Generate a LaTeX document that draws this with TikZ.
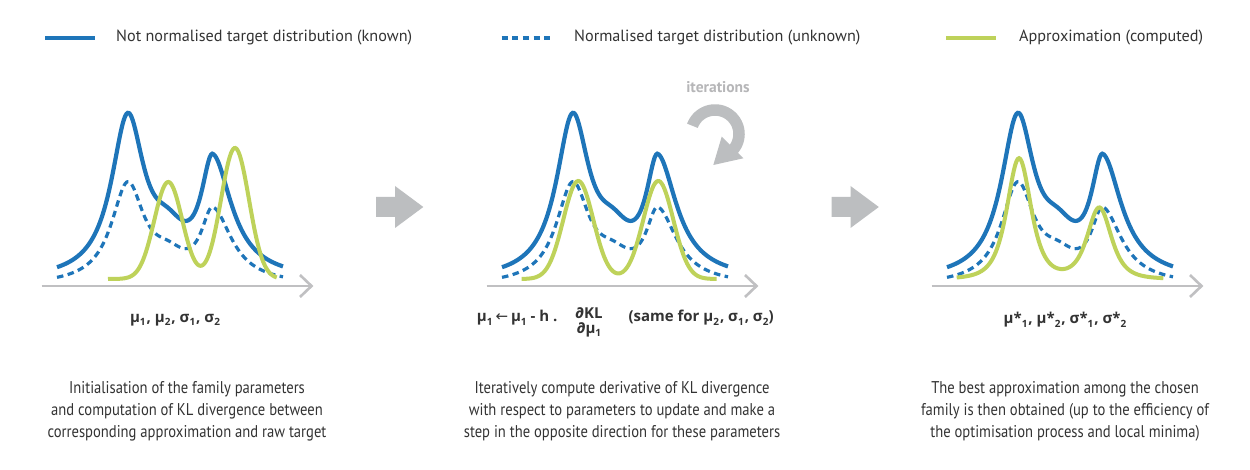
\documentclass[tikz,border=0pt]{standalone}
\usepackage{fontspec}
\setmainfont{PT Sans}
\newfontfamily\condfont[FakeStretch=0.86]{PT Sans}
\newfontfamily\labfont{Open Sans}
\newfontfamily\symfont{DejaVu Sans}
\definecolor{tblue}{RGB}{30,117,185}
\definecolor{tgreen}{RGB}{190,210,90}
\definecolor{agray}{RGB}{188,190,192}
\definecolor{xgray}{RGB}{192,192,194}
\definecolor{igray}{RGB}{182,182,184}
\definecolor{txt}{RGB}{51,51,51}
\newcommand\lidx[1]{\raisebox{-0.4ex}{\fontsize{10}{10}\selectfont #1}}
\begin{document}
\begin{tikzpicture}[x=1pt,y=-1pt,
  declare function={
    bl(\zz)=5+157.8/(1+((\zz-127.7)/20)^2)+112.7/(1+((\zz-212.7)/ifthenelse(\zz<212.7,14,23))^2)+32/(1+((\zz-168)/22)^2);
    ga(\zz,\mm,\ww)=exp(-min(((\zz-\mm)/\ww)^2,15));
    tq(\zz,\mm,\ww)=1/(1+((\zz-\mm)/\ww)^2)^2;
  },
  tgt/.style={tblue, line width=4.2pt},
  nrm/.style={tblue, line width=3.2pt, dash pattern=on 6.5pt off 4.5pt},
  apx/.style={tgreen, line width=4pt},
  axisline/.style={xgray, line width=2.6pt},
  blockarrow/.style={fill=agray, draw=none},
  legtxt/.style={text=txt, inner sep=0pt, font=\fontsize{16.2}{19}\selectfont},
  captxt/.style={text=txt, inner sep=0pt, align=center, font=\condfont\fontsize{17}{22}\selectfont},
  lab/.style={text=txt, inner sep=0pt, font=\labfont\bfseries\fontsize{15}{17}\selectfont},
  itlab/.style={text=igray, inner sep=0pt, font=\bfseries\fontsize{15.5}{17}\selectfont},
]
\useasboundingbox (0,0) rectangle (1250,470);
\fill[white] (0,0) rectangle (1250,470);

% legend
\draw[tgt] (45,38) -- (95,38);
\node[legtxt, anchor=west] (leg1) at (116,37.5) {Not normalised target distribution (known)};
\draw[nrm, dash pattern=on 6pt off 4.6pt] (501.7,38) -- (550.3,38);
\node[legtxt, anchor=west] (leg2) at (574,37.5) {Normalised target distribution (unknown)};
\draw[apx] (946,38) -- (996,38);
\node[legtxt, anchor=west] (leg3) at (1019,37.5) {Approximation (computed)};

% panel 1
\begin{scope}
  \draw[axisline] (41.7,286) -- (311,286);
  \draw[axisline] (300,275) -- (311.5,286) -- (300,297);
  \draw[tgt] plot[domain=57:283, samples=180] (\x,{286-bl(\x)});
  \draw[nrm] plot[domain=57:283, samples=180] (\x,{286-(0.62*bl(\x)-3)});
  \draw[apx] plot[domain=108:276.7, samples=160] (\x,{286-(7+97*ga(\x,168.3,19.8)+131*ga(\x,235,19.8))});
\end{scope}
\node[lab] (par1) at (175,320) {μ\lidx{1}\kern1pt, μ\lidx{2}\kern1pt, σ\lidx{1}\kern1pt, σ\lidx{2}};

% panel 2
\begin{scope}[shift={(445,0)}]
  \draw[axisline] (41.7,286) -- (311,286);
  \draw[axisline] (300,275) -- (311.5,286) -- (300,297);
  \draw[tgt] plot[domain=57:283, samples=180] (\x,{286-bl(\x)});
  \draw[nrm] plot[domain=57:283, samples=180] (\x,{286-(0.62*bl(\x)-3)});
  \draw[apx] plot[domain=76.7:271.7, samples=160] (\x,{286-(7+98*ga(\x,133.3,21.2)+98*ga(\x,213.3,21.2))});
\end{scope}
\node[lab, anchor=west] (upd) at (476.7,318) {μ\lidx{1}\kern3pt{\symfont\mdseries ←}\kern3pt μ\lidx{1} - h .};
\node[lab] (num) at (589,313) {∂KL};
\node[lab] (den) at (589,330) {∂μ\lidx{1}};
\node[lab, anchor=west] (same) at (628.3,318) {(same for μ\lidx{2}\kern1pt, σ\lidx{1}\kern1pt, σ\lidx{2})};

% iterations arrow
\node[itlab] (iter) at (718,87) {iterations};
\draw[agray, line width=11.5pt] plot[domain=200:402, samples=60] ({715+24*cos(\x)},{134+24*sin(\x)});
\fill[agray] (721.7,136.7) -- (743.3,158.3) -- (713.3,165) -- cycle;

% panel 3
\begin{scope}[shift={(890,0)}]
  \draw[axisline] (41.7,286) -- (311,286);
  \draw[axisline] (300,275) -- (311.5,286) -- (300,297);
  \draw[tgt] plot[domain=57:283, samples=180] (\x,{286-bl(\x)});
  \draw[nrm] plot[domain=57:283, samples=180] (\x,{286-(0.62*bl(\x)-3)});
  \draw[apx] plot[domain=66.7:273.3, samples=160] (\x,{286-(7+120.5*tq(\x,129,22)+71*tq(\x,209.3,22))});
\end{scope}
\node[lab] (par3) at (1065,320) {μ*\lidx{1}\kern1pt, μ*\lidx{2}\kern1pt, σ*\lidx{1}\kern1pt, σ*\lidx{2}};

% block arrows
\fill[blockarrow] (376,197) -- (395,197) -- (395,186) -- (423.3,207) -- (395,228) -- (395,217) -- (376,217) -- cycle;
\fill[blockarrow] (831.5,197) -- (850.5,197) -- (850.5,186) -- (878.8,207) -- (850.5,228) -- (850.5,217) -- (831.5,217) -- cycle;

% captions
\node[captxt] (cap1) at (187,411) {Initialisation of the family parameters\\and computation of KL divergence between\\corresponding approximation and raw target};
\node[captxt] (cap2) at (622,411) {Iteratively compute derivative of KL divergence\\with respect to parameters to update and make a\\step in the opposite direction for these parameters};
\node[captxt] (cap3) at (1065,411) {The best approximation among the chosen\\family is then obtained (up to the efficiency of\\the optimisation process and local minima)};
\end{tikzpicture}
\end{document}
